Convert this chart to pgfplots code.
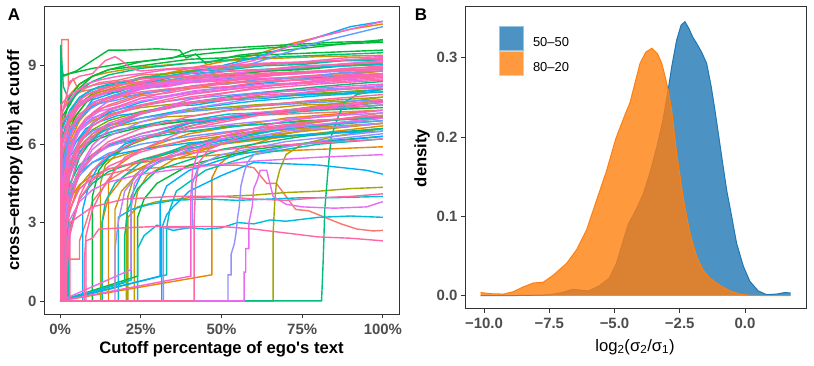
\documentclass[border=0pt]{standalone}
\usepackage{fontspec}
\setmainfont{Liberation Sans}
\newfontfamily\plainlib{Liberation Sans}
\usepackage{pgfplots}
\pgfplotsset{compat=1.18}

% ggplot hue palette
\definecolor{cRed}{HTML}{F8766D}
\definecolor{cOra}{HTML}{E58700}
\definecolor{cGold}{HTML}{C99800}
\definecolor{cOli}{HTML}{A3A500}
\definecolor{cLgr}{HTML}{6BB100}
\definecolor{cGrn}{HTML}{00BA38}
\definecolor{cTgr}{HTML}{00BF7D}
\definecolor{cTeal}{HTML}{00C0AF}
\definecolor{cCyan}{HTML}{00BCD8}
\definecolor{cBlue}{HTML}{00B0F6}
\definecolor{cLblu}{HTML}{619CFF}
\definecolor{cLav}{HTML}{9590FF}
\definecolor{cPur}{HTML}{B983FF}
\definecolor{cMag}{HTML}{E76BF3}
\definecolor{cPnk}{HTML}{FD61D1}
\definecolor{cRose}{HTML}{FF67A4}
\definecolor{axcol}{HTML}{333333}
\definecolor{tickcol}{HTML}{4D4D4D}
\definecolor{bL}{HTML}{1F77B4}
\definecolor{oL}{HTML}{FF7F0E}

\pgfplotsset{
  panel/.style={
    scale only axis, anchor=south west, clip mode=individual,
    axis line style={draw=axcol, line width=1bp},
    tick style={draw=axcol, line width=0.8bp},
    tick align=outside, major tick length=4bp,
    xtick pos=bottom, ytick pos=left,
    ticklabel style={font=\fontsize{15}{15}\selectfont\bfseries, text=tickcol},
    label style={font=\fontsize{16.7}{18}\selectfont\bfseries},
  },
}

\begin{document}
\begin{tikzpicture}
\useasboundingbox (0,0) rectangle (814bp,366bp);

% ---------------- panel A ----------------
\begin{axis}[panel,
  at={(44bp,52bp)}, width=355bp, height=307bp,
  xmin=-5, xmax=105, ymin=-0.5, ymax=11.25,
  xtick={0,25,50,75,100}, xticklabels={0\%,25\%,50\%,75\%,100\%},
  ytick={0,3,6,9}, yticklabels={0,3,6,9},
  xticklabel style={yshift=-3bp},
  xlabel={Cutoff percentage of ego{\plainlib '}s text},
  ylabel={cross--entropy (bit) at cutoff},
  xlabel style={at={(axis description cs:0.5,-0.114)}, anchor=center},
  ylabel style={at={(axis description cs:-0.082,0.5)}, anchor=center},
  no markers, every axis plot/.append style={line width=1.4bp},
]
% red
\addplot[cRed] coordinates {(0,0)(1.1,0)(1.1,4.3)(3,5.8)(6,6.65)(10,7.15)(15,7.5)(25,7.9)(40,8.2)(60,8.45)(80,8.65)(100,8.8)};
\addplot[cRed] coordinates {(0,0)(1.7,0)(1.7,4.0)(3,5.3)(6,5.85)(10,6.2)(15,6.45)(25,6.7)(40,6.9)(60,7.1)(80,7.2)(100,7.3)};
\addplot[cRed] coordinates {(0,0)(0.5,0)(0.5,10.0)(2.5,10.0)(2.5,8.2)(4,8.5)(6,8.0)(10,8.1)(20,8.3)(40,8.4)(60,8.5)(80,8.55)(100,8.6)};
\addplot[cRed] coordinates {(0,0)(2,0)(2,3.0)(5,4.2)(10,4.7)(20,5.0)(30,5.1)(45,5.2)(55,5.2)(60,5.1)(64,4.5)(67,4.5)(70,4.0)(73,3.5)(77,3.45)(82,3.2)(87,2.95)(92,2.75)(97,2.68)(100,2.7)};
\addplot[cRed] coordinates {(0,0)(2,0)(2,1.6)(6,1.6)(6,2.3)(8,3.0)(10,3.8)(15,4.6)(25,5.4)(50,6.3)(100,7.2)};
\addplot[cRed] coordinates {(0,0)(0.4,0)(0.4,6.8)(3,7.6)(5,7.9)(8,8.15)(12,8.35)(18,8.45)(25,8.65)(33,8.7)(42,8.85)(52,8.9)(63,9.05)(75,9.1)(88,9.2)(100,9.25)};
% orange
\addplot[cOra] coordinates {(0,0)(0.8,0)(0.8,4.0)(3,6.1)(6,6.9)(10,7.45)(15,7.8)(25,8.2)(40,8.5)(60,8.75)(80,8.95)(100,9.1)};
\addplot[cOra] coordinates {(0,0)(2.4,0)(2.4,3.2)(3,3.9)(6,4.45)(10,4.8)(15,5.05)(25,5.3)(40,5.5)(60,5.7)(80,5.8)(100,5.9)};
\addplot[cOra] coordinates {(0,0)(0.7,0)(0.7,5.5)(3,6.8)(10,7.9)(25,8.5)(40,8.9)(60,9.4)(70,9.8)(80,10.1)(90,10.4)(100,10.6)};
\addplot[cOra] coordinates {(0,0)(47,1.0)(47,4.7)(49,5.2)(55,5.8)(70,6.4)(85,6.8)(100,7.0)};
\addplot[cOra] coordinates {(0,0)(15,0)(15,4.5)(17,5.1)(25,5.8)(40,6.4)(70,7.0)(100,7.3)};
\addplot[cOra] coordinates {(0,0)(13,0.5)(13,3.0)(15,4.0)(20,4.8)(30,5.4)(50,6.0)(100,6.7)};
\addplot[cOra] coordinates {(0,0)(0.9,0)(0.9,4.6)(3,6.3)(5,6.8)(8,7.3)(12,7.55)(18,7.8)(25,7.9)(33,8.1)(42,8.15)(52,8.35)(63,8.4)(75,8.6)(88,8.65)(100,8.8)};
% gold
\addplot[cGold] coordinates {(0,0)(1.3,0)(1.3,2.0)(3,3.5)(6,4.4)(10,5.0)(15,5.4)(25,5.8)(40,6.15)(60,6.45)(80,6.65)(100,6.8)};
\addplot[cGold] coordinates {(0,0)(0.6,0)(0.6,7.2)(3,7.9)(6,8.3)(10,8.6)(15,8.75)(25,8.95)(40,9.1)(60,9.25)(80,9.35)(100,9.4)};
\addplot[cGold] coordinates {(0,0)(17,0.5)(17,3.5)(19,4.2)(25,5.0)(40,5.8)(60,6.3)(100,6.8)};
\addplot[cGold] coordinates {(0,0)(23,0)(23,3.5)(24,4.2)(27,4.8)(35,5.4)(50,6.0)(75,6.5)(100,6.8)};
\addplot[cGold] coordinates {(0,0)(1.1,0)(1.1,3.8)(3,5.1)(5,5.7)(8,6.15)(12,6.45)(18,6.7)(25,6.85)(33,7.05)(42,7.1)(52,7.3)(63,7.35)(75,7.5)(88,7.55)(100,7.65)};
% olive
\addplot[cOli] coordinates {(0,0)(1.8,0)(1.8,4.0)(3,5.2)(6,5.9)(10,6.4)(15,6.7)(25,7.0)(40,7.3)(60,7.5)(80,7.65)(100,7.8)};
\addplot[cOli] coordinates {(0,0)(0.8,0)(0.8,5.0)(3,6.0)(6,6.55)(10,6.9)(15,7.15)(25,7.4)(40,7.6)(60,7.8)(80,7.9)(100,8.0)};
\addplot[cOli] coordinates {(0,0)(21,0)(21,3.2)(24,3.6)(30,3.8)(40,3.95)(50,4.0)(60,4.05)(70,4.15)(80,4.2)(90,4.3)(100,4.35)};
\addplot[cOli] coordinates {(0,0)(66,0)(66,2.6)(66.5,3.8)(67,4.5)(68,5.0)(70,5.6)(75,6.0)(85,6.3)(100,6.6)};
\addplot[cOli] coordinates {(0,0)(20.5,0)(20.5,3.0)(21,4.0)(23,4.8)(30,5.5)(50,6.3)(75,6.8)(100,7.1)};
\addplot[cOli] coordinates {(0,0)(12.5,0)(12.5,4.5)(14,5.2)(20,5.9)(40,6.8)(100,7.8)};
\addplot[cOli] coordinates {(0,0)(0.6,0)(0.6,6.0)(3,7.0)(5,7.4)(8,7.75)(12,8.0)(18,8.15)(25,8.35)(33,8.45)(42,8.6)(52,8.7)(63,8.8)(75,8.9)(88,9.0)(100,9.1)};
% light green
\addplot[cLgr] coordinates {(0,0)(1,0)(1,5.5)(3,6.8)(6,7.5)(10,7.95)(15,8.2)(25,8.55)(40,8.8)(60,9.05)(80,9.15)(100,9.3)};
\addplot[cLgr] coordinates {(0,0)(1.4,0)(1.4,4.0)(3,5.3)(6,6.1)(10,6.55)(15,6.9)(25,7.25)(40,7.55)(60,7.8)(80,7.95)(100,8.1)};
\addplot[cLgr] coordinates {(0,0)(2.2,0)(2.2,3.0)(3,4.0)(5,4.8)(8,5.4)(12,5.75)(18,6.1)(25,6.2)(33,6.45)(42,6.5)(52,6.7)(63,6.75)(75,6.9)(88,6.95)(100,7.05)};
% green
\addplot[cGrn] coordinates {(0,0)(0.5,0)(0.5,6.5)(3,7.8)(6,8.3)(10,8.6)(15,8.85)(25,9.0)(40,9.25)(50,9.3)(60,9.4)(80,9.5)(100,9.6)};
\addplot[cGrn] coordinates {(0,0)(2,0)(2,4.2)(3,5.0)(6,5.7)(10,6.1)(15,6.35)(25,6.65)(40,6.9)(60,7.15)(80,7.3)(100,7.4)};
\addplot[cGrn] coordinates {(0,0)(0.3,0)(0.3,7.0)(3,7.5)(6,8.15)(10,8.6)(15,8.85)(25,9.15)(40,9.4)(60,9.65)(80,9.8)(100,9.9)};
\addplot[cGrn] coordinates {(0,0)(0.4,0)(0.4,9.0)(1,8.6)(3,8.7)(10,8.9)(20,9.1)(35,9.3)(41,9.6)(55,9.7)(70,9.8)(85,9.9)(100,9.95)};
\addplot[cGrn] coordinates {(0,0)(0.3,0)(0.3,8.6)(5,8.8)(10,9.2)(15,9.6)(20,9.6)(30,9.65)(37,9.6)(39,9.3)(42,9.45)(45,9.1)(55,9.4)(70,9.6)(85,9.8)(100,10.0)};
\addplot[cGrn] coordinates {(0,0)(24,0.95)(24,3.2)(26,3.9)(30,4.5)(40,5.2)(60,5.8)(80,6.1)(100,6.3)};
\addplot[cGrn] coordinates {(0,0)(10,0)(10,4.0)(12,5.0)(15,5.5)(25,6.2)(50,7.0)(100,7.6)};
\addplot[cGrn] coordinates {(0,0)(0.7,0)(0.7,5.0)(3,6.6)(5,7.1)(8,7.6)(12,7.9)(18,8.0)(25,8.3)(33,8.35)(42,8.55)(52,8.6)(63,8.8)(75,8.85)(88,9.0)(100,9.05)};
% teal green
\addplot[cTgr] coordinates {(0,0)(1.2,0)(1.2,2.5)(3,4.4)(6,5.5)(10,6.2)(15,6.7)(25,7.15)(40,7.6)(60,7.95)(80,8.2)(100,8.4)};
\addplot[cTgr] coordinates {(0,0)(2.1,0)(2.1,2.0)(3,2.8)(6,3.9)(10,4.5)(15,4.95)(25,5.4)(40,5.85)(60,6.2)(80,6.4)(100,6.6)};
\addplot[cTgr] coordinates {(0,0)(0.2,0)(0.2,9.8)(0.6,9.0)(1,8.2)(3,7.6)(6,8.05)(10,8.4)(15,8.65)(25,8.9)(40,9.1)(60,9.3)(80,9.4)(100,9.5)};
\addplot[cTgr] coordinates {(0,0)(81,0)(81.5,1.5)(82,3.5)(83,5.0)(84,6.3)(86,7.0)(88,7.6)(92,7.9)(100,8.1)};
\addplot[cTgr] coordinates {(0,0)(20,0.7)(20,2.5)(21,3.5)(24,4.3)(30,5.0)(50,5.8)(75,6.3)(100,6.6)};
% teal
\addplot[cTeal] coordinates {(0,0)(2.5,0)(2.5,3.6)(3,4.5)(6,5.2)(10,5.6)(15,5.95)(25,6.2)(40,6.5)(60,6.75)(80,6.9)(100,7.0)};
\addplot[cTeal] coordinates {(0,0)(33,1.0)(33,2.8)(34,3.5)(36,4.2)(45,5.0)(60,5.6)(80,6.0)(100,6.2)};
\addplot[cTeal] coordinates {(0,0)(13,0)(13,3.0)(14,3.8)(17,4.5)(25,5.3)(40,6.0)(70,6.6)(100,6.9)};
\addplot[cTeal] coordinates {(0,0)(0.5,0)(0.5,6.2)(3,7.2)(5,7.6)(8,7.95)(12,8.2)(18,8.3)(25,8.55)(33,8.6)(42,8.8)(52,8.85)(63,9.0)(75,9.05)(88,9.2)(100,9.2)};
% cyan
\addplot[cCyan] coordinates {(0,0)(0.9,0)(0.9,3.0)(3,4.8)(6,5.7)(10,6.25)(15,6.6)(25,7.0)(40,7.35)(60,7.65)(80,7.85)(100,8.0)};
\addplot[cCyan] coordinates {(0,0)(1,0)(1,2.4)(3,3.9)(6,4.9)(10,5.5)(15,5.95)(25,6.4)(40,6.8)(60,7.1)(80,7.3)(100,7.5)};
\addplot[cCyan] coordinates {(0,0)(0.3,0)(0.3,6.5)(3,7.3)(6,7.8)(10,8.1)(15,8.3)(25,8.5)(40,8.7)(60,8.85)(80,8.95)(100,9.05)};
\addplot[cCyan] coordinates {(0,0)(24,0)(24,2.0)(26,2.5)(30,2.9)(35,2.7)(40,2.8)(45,2.75)(50,2.8)(55,3.0)(60,2.95)(65,3.1)(70,3.05)(80,3.2)(90,3.25)(100,3.2)};
\addplot[cCyan] coordinates {(0,0)(18,0)(18,3.2)(22,3.5)(28,3.7)(35,3.85)(45,3.9)(55,3.85)(65,3.9)(75,3.95)(85,3.95)(100,4.0)};
\addplot[cCyan] coordinates {(0,0)(22,0.8)(22,4.0)(25,4.8)(30,5.3)(45,6.0)(70,6.6)(100,7.0)};
\addplot[cCyan] coordinates {(0,0)(1.6,0)(1.6,3.5)(3,4.9)(5,5.5)(8,6.0)(12,6.3)(18,6.55)(25,6.7)(33,6.9)(42,6.95)(52,7.15)(63,7.2)(75,7.35)(88,7.4)(100,7.5)};
% blue
\addplot[cBlue] coordinates {(0,0)(1.5,0)(1.5,3.5)(3,5.2)(6,6.2)(10,6.8)(15,7.2)(25,7.6)(40,8.0)(60,8.3)(80,8.55)(100,8.7)};
\addplot[cBlue] coordinates {(0,0)(2.2,0)(2.2,3.4)(3,4.3)(6,4.9)(10,5.3)(15,5.55)(25,5.8)(40,6.05)(60,6.25)(80,6.4)(100,6.5)};
\addplot[cBlue] coordinates {(0,0)(0.5,0)(0.5,5.0)(3,6.3)(6,7.0)(10,7.45)(15,7.8)(25,8.1)(40,8.4)(60,8.6)(80,8.75)(100,8.9)};
\addplot[cBlue] coordinates {(0,0)(1,0)(1,5.0)(3,6.5)(10,7.7)(25,8.3)(40,8.7)(60,9.3)(75,9.9)(90,10.5)(100,10.7)};
\addplot[cBlue] coordinates {(0,0)(31.5,0)(31.5,2.8)(33,3.3)(35,3.6)(40,4.2)(50,4.8)(60,5.3)(80,5.2)(95,5.0)(100,4.85)};
\addplot[cBlue] coordinates {(0,0)(31,0.95)(31,3.8)(33,4.4)(40,5.0)(55,5.6)(75,6.0)(100,6.3)};
\addplot[cBlue] coordinates {(0,0)(7,0)(7,3.5)(9,4.5)(12,5.2)(20,6.0)(40,6.8)(70,7.3)(100,7.6)};
\addplot[cBlue] coordinates {(0,0)(1.3,0)(1.3,4.0)(3,5.6)(5,6.1)(8,6.6)(12,6.85)(18,7.1)(25,7.2)(33,7.45)(42,7.5)(52,7.7)(63,7.75)(75,7.9)(88,7.95)(100,8.1)};
% light blue
\addplot[cLblu] coordinates {(0,0)(0.4,0)(0.4,5.0)(3,6.0)(6,6.6)(10,7.0)(15,7.25)(25,7.5)(40,7.75)(60,7.95)(80,8.1)(100,8.2)};
\addplot[cLblu] coordinates {(0,0)(1.9,0)(1.9,4.5)(3,5.5)(6,6.1)(10,6.5)(15,6.75)(25,7.0)(40,7.25)(60,7.45)(80,7.6)(100,7.7)};
\addplot[cLblu] coordinates {(0,0)(1.2,0)(1.2,3.0)(3,4.0)(6,4.8)(10,5.3)(15,5.65)(25,6.0)(40,6.3)(60,6.6)(80,6.75)(100,6.9)};
\addplot[cLblu] coordinates {(0,0)(0.8,0)(0.8,5.2)(3,6.6)(10,7.6)(25,8.2)(40,8.6)(60,9.1)(80,9.9)(100,10.5)};
\addplot[cLblu] coordinates {(0,0)(0.7,0)(0.7,4.8)(3,6.4)(5,6.85)(8,7.25)(12,7.55)(18,7.7)(25,7.95)(33,8.05)(42,8.25)(52,8.3)(63,8.5)(75,8.55)(88,8.75)(100,8.8)};
\addplot[cLav] coordinates {(0,0)(32,0)(32,2.8)(41,2.8)(41,4.5)(43,5.2)(50,5.6)(70,6.1)(100,6.5)};
\addplot[cLav] coordinates {(0,0)(52,0)(52,1.0)(53,1.0)(53,1.8)(54,2.2)(54.5,2.6)(55,3.2)(55.5,3.6)(56,4.4)(57,4.9)(58,5.3)(60,5.6)(70,5.9)(85,6.2)(100,6.4)};
% purple
\addplot[cPur] coordinates {(0,0)(1,0)(1,2.8)(3,4.2)(6,5.0)(10,5.55)(15,5.9)(25,6.3)(40,6.6)(60,6.85)(80,7.05)(100,7.2)};
\addplot[cPur] coordinates {(0,0)(0.9,0)(0.9,2.2)(3,3.75)(6,5.0)(10,5.8)(15,6.3)(25,6.85)(40,7.35)(60,7.75)(80,8.05)(100,8.25)};
\addplot[cPur] coordinates {(0,0)(17,0)(17,2.0)(18,3.0)(20,4.2)(25,5.0)(40,5.8)(70,6.5)(100,6.8)};
\addplot[cPur] coordinates {(0,0)(0.5,0)(0.5,5.6)(3,6.9)(5,7.3)(8,7.7)(12,7.85)(18,8.1)(25,8.15)(33,8.35)(42,8.4)(52,8.55)(63,8.6)(75,8.75)(88,8.8)(100,8.85)};
% magenta
\addplot[cMag] coordinates {(0,0)(0.6,0)(0.6,4.5)(3,5.7)(6,6.5)(10,6.95)(15,7.3)(25,7.65)(40,7.95)(60,8.2)(80,8.35)(100,8.5)};
\addplot[cMag] coordinates {(0,0)(1.6,0)(1.6,1.5)(3,3.1)(6,3.8)(10,4.25)(15,4.55)(25,4.85)(40,5.1)(60,5.35)(80,5.5)(100,5.6)};
\addplot[cMag] coordinates {(0,0)(0.6,0)(0.6,4.0)(3,5.6)(6,6.6)(10,7.2)(15,7.65)(25,8.1)(40,8.5)(60,8.8)(80,9.0)(100,9.2)};
\addplot[cMag] coordinates {(0,0)(0.4,0)(0.4,6.0)(3,7.0)(6,7.5)(10,7.8)(15,8.0)(25,8.25)(40,8.45)(60,8.6)(80,8.75)(100,8.9)};
\addplot[cMag] coordinates {(0,0)(22,1.2)(22,3.5)(23,4.5)(27,5.2)(40,5.9)(60,6.5)(100,7.0)};
\addplot[cMag] coordinates {(0,0)(1,0)(1,3.5)(3,5.5)(5,6.3)(8,6.9)(12,7.25)(18,7.45)(25,7.75)(33,7.85)(42,8.05)(52,8.15)(63,8.3)(75,8.35)(88,8.5)(100,8.6)};
\addplot[cMag] coordinates {(0,0)(57,0)(57,1.1)(57.5,1.1)(57.5,2.0)(58.5,2.0)(58.5,3.0)(59.5,3.6)(60,4.3)(61,4.6)(62,5.0)(64,5.0)(66,4.0)(70,3.7)(75,3.6)(85,3.55)(95,3.6)(100,3.8)};
% pink
\addplot[cPnk] coordinates {(0,0)(0.5,0)(0.5,2.0)(3,3.8)(6,4.9)(10,5.5)(15,6.0)(25,6.4)(40,6.85)(60,7.2)(80,7.4)(100,7.6)};
\addplot[cPnk] coordinates {(0,0)(0.9,0)(0.9,3.0)(3,4.8)(6,5.8)(10,6.4)(15,6.8)(25,7.2)(40,7.6)(60,7.9)(80,8.15)(100,8.3)};
\addplot[cPnk] coordinates {(0,0)(1,0)(1,2.0)(3,3.7)(6,5.1)(10,5.95)(15,6.55)(25,7.15)(40,7.7)(60,8.15)(80,8.45)(100,8.7)};
\addplot[cPnk] coordinates {(0,0)(0.3,0)(0.3,6.8)(3,7.2)(6,7.6)(10,7.85)(15,8.0)(25,8.2)(40,8.35)(60,8.5)(80,8.6)(100,8.7)};
\addplot[cPnk] coordinates {(0,0)(0.5,0)(0.5,6.5)(3,7.0)(6,7.7)(10,8.0)(15,8.2)(25,8.4)(40,8.7)(60,9.2)(70,9.7)(80,10.1)(90,10.4)(100,10.7)};
\addplot[cPnk] coordinates {(0,0)(0.6,0)(0.6,4.2)(3,6.2)(5,6.9)(8,7.35)(12,7.7)(18,7.85)(25,8.15)(33,8.2)(42,8.4)(52,8.45)(63,8.65)(75,8.7)(88,8.9)(100,8.95)};
\addplot[cPnk] coordinates {(0,0)(0.3,0)(0.3,7.2)(3,7.7)(5,8.0)(8,8.3)(12,8.45)(18,8.6)(25,8.7)(33,8.85)(42,8.9)(52,9.0)(63,9.1)(75,9.15)(88,9.3)(100,9.35)};
\addplot[cPnk] coordinates {(0,0)(40.5,0.95)(40.5,4.0)(41,5.0)(43,5.8)(50,6.3)(70,6.9)(100,7.3)};
% rose
\addplot[cRose] coordinates {(0,0)(0.3,0)(0.3,6.0)(3,6.9)(6,7.45)(10,7.8)(15,8.05)(25,8.3)(40,8.5)(60,8.65)(80,8.8)(100,8.9)};
\addplot[cRose] coordinates {(0,0)(0.7,0)(0.7,1.8)(3,3.5)(6,4.3)(10,4.7)(15,5.05)(25,5.35)(40,5.65)(60,5.9)(80,6.05)(100,6.2)};
\addplot[cRose] coordinates {(0,0)(0.4,0)(0.4,5.5)(3,6.6)(6,7.15)(10,7.5)(15,7.75)(25,8.0)(40,8.2)(60,8.4)(80,8.5)(100,8.6)};
\addplot[cRose] coordinates {(0,0)(0.8,0)(0.8,2.2)(3,3.7)(6,4.9)(10,5.6)(15,6.1)(25,6.6)(40,7.05)(60,7.45)(80,7.7)(100,7.9)};
\addplot[cRose] coordinates {(0,0)(1.2,0)(1.2,3.8)(3,5.25)(6,6.15)(10,6.7)(15,7.05)(25,7.45)(40,7.8)(60,8.1)(80,8.3)(100,8.45)};
\addplot[cRose] coordinates {(0,0)(1.5,0)(1.5,1.2)(3,2.6)(6,3.9)(10,4.6)(15,5.15)(25,5.7)(40,6.2)(60,6.6)(80,6.9)(100,7.1)};
\addplot[cRose] coordinates {(0,0)(0.5,0)(0.5,3.5)(3,5.0)(6,6.1)(10,6.8)(15,7.3)(25,7.75)(40,8.2)(60,8.55)(80,8.8)(100,9.0)};
\addplot[cRose] coordinates {(0,0)(0.2,0)(0.2,7.5)(3,7.9)(6,8.1)(10,8.25)(15,8.35)(25,8.5)(40,8.6)(60,8.7)(80,8.8)(100,8.85)};
\addplot[cRose] coordinates {(0,0)(0.6,0)(0.6,3.0)(3,5.0)(6,6.0)(10,6.7)(15,7.1)(25,7.5)(40,7.9)(60,8.2)(80,8.4)(100,8.55)};
\addplot[cRose] coordinates {(0,0)(2,0)(2,1.0)(3,2.5)(6,4.0)(10,5.0)(15,5.6)(25,6.2)(40,6.7)(60,7.1)(80,7.35)(100,7.5)};
\addplot[cRose] coordinates {(0,0)(0.4,0)(0.4,5.8)(3,7.1)(5,7.5)(8,7.9)(12,8.05)(18,8.3)(25,8.35)(33,8.55)(42,8.6)(52,8.8)(63,8.85)(75,9.0)(88,9.05)(100,9.15)};
\addplot[cRose] coordinates {(0,0)(1.8,0)(1.8,2.5)(3,4.3)(5,5.3)(8,6.0)(12,6.5)(18,6.85)(25,7.2)(33,7.35)(42,7.6)(52,7.7)(63,7.9)(75,7.95)(88,8.1)(100,8.15)};
\addplot[cRose] coordinates {(0,0)(0.9,0)(0.9,4.0)(3,5.8)(5,6.5)(8,7.0)(12,7.35)(18,7.55)(25,7.85)(33,7.95)(42,8.15)(52,8.2)(63,8.4)(75,8.45)(88,8.6)(100,8.65)};
\addplot[cRose] coordinates {(0,0)(0.3,0)(0.3,7.0)(3,8.4)(6,8.6)(10,8.7)(14,9.2)(17,9.35)(19,9.2)(22,8.9)(25,8.8)(35,8.9)(50,9.0)(70,9.1)(100,9.3)};
\addplot[cRose] coordinates {(0,0)(3,0)(3,3.0)(10,3.6)(20,3.9)(35,4.0)(50,4.0)(60,3.9)(70,3.85)(80,3.95)(90,4.0)(100,4.1)};
\addplot[cRose] coordinates {(0,0)(7.5,0)(7.5,1.5)(8,2.5)(10,3.5)(14,4.5)(20,5.5)(40,6.6)(70,7.3)(100,7.7)};
\addplot[cRose] coordinates {(0,0)(8,0)(8,2.3)(10,2.4)(12,2.75)(20,2.8)(30,2.85)(40,2.85)(50,2.85)(60,2.75)(70,2.6)(80,2.45)(90,2.4)(100,2.3)};
\addplot[cRose] coordinates {(0,0)(41.5,0)(41.5,3)(42,4.5)(43,5.3)(46,5.8)(60,6.5)(80,6.9)(100,7.1)};
\node[font=\fontsize{17}{17}\selectfont\bfseries] at (axis description cs:-0.0845,0.976) {A};
\end{axis}

% ---------------- panel B ----------------
\begin{axis}[panel,
  at={(465bp,57bp)}, width=341bp, height=302bp,
  xmin=-10.73, xmax=2.34, ymin=-0.0168, ymax=0.364,
  xtick={-10,-7.5,-5,-2.5,0}, xticklabels={−10.0,−7.5,−5.0,−2.5,0.0},
  ytick={0,0.1,0.2,0.3}, yticklabels={0.0,0.1,0.2,0.3},
  xticklabel style={yshift=-2bp},
  xlabel={log\textsubscript{2}(σ\textsubscript{2}/σ\textsubscript{1})},
  ylabel={density},
  xlabel style={at={(axis description cs:0.4985,-0.126)}, anchor=center, font=\fontsize{16.7}{18}\selectfont},
  ylabel style={at={(axis description cs:-0.126,0.5)}, anchor=center},
  legend style={at={(axis description cs:0.0997,0.937)}, anchor=north west,
    draw=none, fill=none, inner sep=0pt, row sep=0pt, column sep=9bp,
    font=\fontsize{13}{13}\selectfont, nodes={inner sep=0pt}},
  legend cell align=left,
  legend image code/.code={\filldraw[#1] (0bp,-7.5bp) rectangle (24bp,16.5bp);},
]
\addplot[draw=none, fill=bL, fill opacity=0.8, forget plot] coordinates {
(-10.13,0.0)(-9.5,0.0)(-8.5,0.0003)(-7.5,0.001)(-7.0,0.004)(-6.6,0.008)(-6.3,0.007)(-6.0,0.006)
(-5.6,0.012)(-5.2,0.022)(-4.92,0.041)(-4.66,0.07)(-4.47,0.09)(-4.15,0.11)(-3.9,0.128)(-3.64,0.155)
(-3.38,0.187)(-3.15,0.22)(-2.95,0.258)(-2.8,0.29)(-2.62,0.322)(-2.45,0.341)(-2.3,0.3455)(-2.15,0.337)
(-2.0,0.326)(-1.85,0.318)(-1.66,0.307)(-1.47,0.293)(-1.3,0.265)(-1.15,0.234)(-1.0,0.2)(-0.89,0.175)
(-0.7,0.133)(-0.51,0.1)(-0.32,0.066)(-0.06,0.037)(0.19,0.018)(0.51,0.006)(0.83,0.0013)(1.21,0.002)
(1.53,0.004)(1.75,0.0034)} \closedcycle;
\addplot[draw=bL, line width=1bp, forget plot] coordinates {
(-10.13,0.0)(-9.5,0.0)(-8.5,0.0003)(-7.5,0.001)(-7.0,0.004)(-6.6,0.008)(-6.3,0.007)(-6.0,0.006)
(-5.6,0.012)(-5.2,0.022)(-4.92,0.041)(-4.66,0.07)(-4.47,0.09)(-4.15,0.11)(-3.9,0.128)(-3.64,0.155)
(-3.38,0.187)(-3.15,0.22)(-2.95,0.258)(-2.8,0.29)(-2.62,0.322)(-2.45,0.341)(-2.3,0.3455)(-2.15,0.337)
(-2.0,0.326)(-1.85,0.318)(-1.66,0.307)(-1.47,0.293)(-1.3,0.265)(-1.15,0.234)(-1.0,0.2)(-0.89,0.175)
(-0.7,0.133)(-0.51,0.1)(-0.32,0.066)(-0.06,0.037)(0.19,0.018)(0.51,0.006)(0.83,0.0013)(1.21,0.002)
(1.53,0.004)(1.75,0.0034)};
\addplot[draw=none, fill=oL, fill opacity=0.8, forget plot] coordinates {
(-10.13,0.004)(-9.77,0.0025)(-9.26,0.002)(-8.88,0.005)(-8.5,0.011)(-8.11,0.016)(-7.73,0.017)(-7.34,0.026)
(-6.83,0.041)(-6.45,0.058)(-6.07,0.083)(-5.68,0.121)(-5.3,0.158)(-4.95,0.198)(-4.6,0.228)(-4.41,0.243)
(-4.2,0.27)(-4.02,0.293)(-3.8,0.307)(-3.57,0.312)(-3.35,0.305)(-3.19,0.293)(-3.05,0.275)(-2.94,0.259)
(-2.81,0.234)(-2.62,0.18)(-2.36,0.122)(-2.11,0.079)(-1.85,0.049)(-1.6,0.032)(-1.34,0.022)(-0.96,0.013)
(-0.57,0.006)(-0.19,0.002)(0.19,0.0004)(1.0,0.0)(1.75,0.0)} \closedcycle;
\addplot[draw=oL, line width=1bp, forget plot] coordinates {
(-10.13,0.004)(-9.77,0.0025)(-9.26,0.002)(-8.88,0.005)(-8.5,0.011)(-8.11,0.016)(-7.73,0.017)(-7.34,0.026)
(-6.83,0.041)(-6.45,0.058)(-6.07,0.083)(-5.68,0.121)(-5.3,0.158)(-4.95,0.198)(-4.6,0.228)(-4.41,0.243)
(-4.2,0.27)(-4.02,0.293)(-3.8,0.307)(-3.57,0.312)(-3.35,0.305)(-3.19,0.293)(-3.05,0.275)(-2.94,0.259)
(-2.81,0.234)(-2.62,0.18)(-2.36,0.122)(-2.11,0.079)(-1.85,0.049)(-1.6,0.032)(-1.34,0.022)(-0.96,0.013)
(-0.57,0.006)(-0.19,0.002)(0.19,0.0004)(1.0,0.0)(1.75,0.0)};
\addlegendimage{fill=bL!80!white, draw=bL!45!white, line width=0.8bp}
\addlegendentry{50–50}
\addlegendimage{fill=oL!80!white, draw=oL!45!white, line width=0.8bp}
\addlegendentry{80–20}
\node[font=\fontsize{17}{17}\selectfont\bfseries] at (axis description cs:-0.129,0.975) {B};
\end{axis}
\end{tikzpicture}
\end{document}
